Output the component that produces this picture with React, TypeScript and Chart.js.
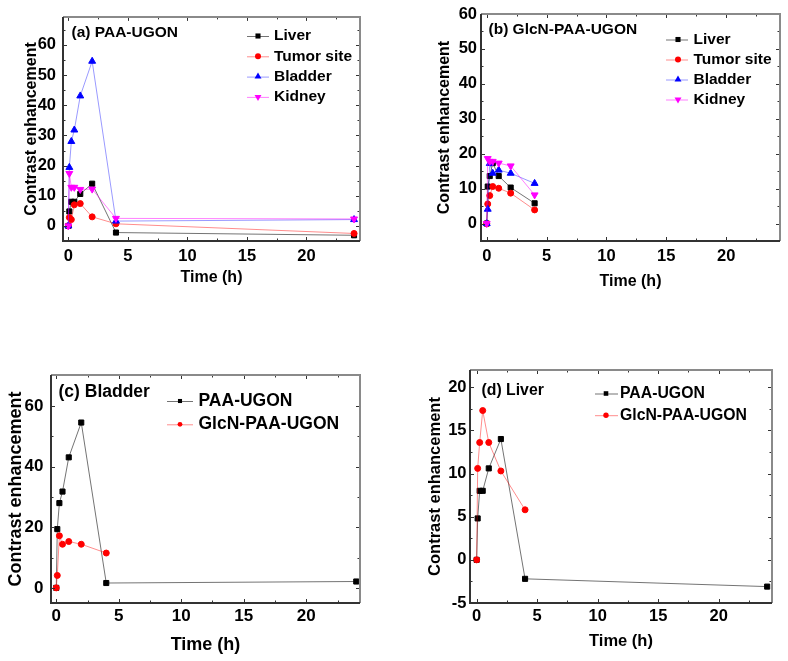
import React, { useEffect, useRef } from "react";
import { Chart, registerables } from "chart.js";

Chart.register(...registerables);

const FONT = "'Liberation Sans', Arial, Helvetica, sans-serif";

// ---- data ----
const timePAA = [0, 0.083, 0.25, 0.5, 1, 2, 4, 24];
const timeGlcN = [0, 0.083, 0.25, 0.5, 1, 2, 4];

const paaLiver = [0, 4.8, 8.0, 8.0, 10.6, 14.0, -2.2, -3.1];
const paaTumor = [0, 2.8, 2.1, 7.0, 7.4, 3.0, 0.7, -2.5];
const paaBladder = [0, 19.4, 28.0, 31.8, 43.1, 54.6, 1.6, 2.1];
const paaKidney = [0, 17.4, 12.8, 12.8, 12.1, 12.2, 2.5, 2.3];

const glcnLiver = [0, 10.6, 13.6, 17.3, 13.6, 10.3, 5.8];
const glcnTumor = [0, 5.6, 8.0, 10.6, 10.1, 8.7, 3.9];
const glcnBladder = [0, 4.1, 17.2, 14.4, 15.3, 14.4, 11.5];
const glcnKidney = [0, 18.6, 17.8, 17.8, 17.3, 16.5, 8.2];

const organLabels = ["Liver", "Tumor site", "Bladder", "Kidney"];
const agentLabels = ["PAA-UGON", "GlcN-PAA-UGON"];
const panelTitles = ["(a) PAA-UGON", "(b) GlcN-PAA-UGON", "(c) Bladder", "(d) Liver"];
const xAxisTitle = "Time (h)";
const yAxisTitle = "Contrast enhancement";

const xTicks = [0, 5, 10, 15, 20];
const xMinor = [2.5, 7.5, 12.5, 17.5, 22.5];
const yTicksA = [0, 10, 20, 30, 40, 50, 60];
const yMinorA = [5, 15, 25, 35, 45, 55, 65];
const yTicksB = [0, 10, 20, 30, 40, 50, 60];
const yMinorB = [5, 15, 25, 35, 45, 55];
const yTicksC = [0, 20, 40, 60];
const yMinorC = [10, 30, 50];
const yTicksD = [-5, 0, 5, 10, 15, 20];
const yMinorD = [-2.5, 2.5, 7.5, 12.5, 17.5];

// ---- styles ----
type MarkerStyle = "rect" | "circle" | "triangle";
type Series = {
  label: string;
  x: number[];
  y: number[];
  color: string;
  line: string;
  style: MarkerStyle;
  rot: number;
  r: number;
};

const BLACK = "#000000";
const RED = "#ff0000";
const BLUE = "#0000ff";
const MAGENTA = "#ff00ff";
const BLACK_LINE = "rgba(0,0,0,0.55)";
const RED_LINE = "rgba(255,0,0,0.45)";
const BLUE_LINE = "rgba(0,0,255,0.4)";
const MAGENTA_LINE = "rgba(255,0,255,0.5)";

function ser(label: string, x: number[], y: number[], color: string, line: string, style: MarkerStyle, rot = 0): Series {
  const r = style === "rect" ? 3.6 : style === "circle" ? 3 : 4;
  return { label, x, y, color, line, style, rot, r };
}

type PanelCfg = {
  left: number;
  top: number;
  w: number;
  h: number;
  area: { l: number; t: number; r: number; b: number };
  xRange: [number, number];
  yRange: [number, number];
  yTicks: number[];
  yMinor: number[];
  title: string;
  titleX: number;
  titleY: number;
  font: number;
  tickFont: number;
  axisFont: number;
  legend: { x1: number; x2: number; mx: number; tx: number; y: number; gap: number; ms: number };
  yLabelPad: number;
  yTitleX: number;
  xLabelY: number;
  xTitleY: number;
  series: Series[];
};

const panels: PanelCfg[] = [
  {
    left: 0, top: 0, w: 390, h: 330,
    area: { l: 63, t: 14, r: 360, b: 241 },
    xRange: [-0.45, 24.5], yRange: [-5, 69.3],
    yTicks: yTicksA, yMinor: yMinorA,
    title: panelTitles[0], titleX: 71.5, titleY: 32.5,
    font: 15.5, tickFont: 16.5, axisFont: 16,
    legend: { x1: 247, x2: 269, mx: 258, tx: 274, y: 36, gap: 20.3, ms: 1 },
    yLabelPad: 7, yTitleX: 31.5, xLabelY: 256, xTitleY: 278,
    series: [
      ser(organLabels[0], timePAA, paaLiver, BLACK, BLACK_LINE, "rect"),
      ser(organLabels[1], timePAA, paaTumor, RED, RED_LINE, "circle"),
      ser(organLabels[2], timePAA, paaBladder, BLUE, BLUE_LINE, "triangle"),
      ser(organLabels[3], timePAA, paaKidney, MAGENTA, MAGENTA_LINE, "triangle", 180),
    ],
  },
  {
    left: 390, top: 0, w: 398, h: 330,
    area: { l: 91, t: 14, r: 390, b: 241 },
    xRange: [-0.48, 24.5], yRange: [-5, 60],
    yTicks: yTicksB, yMinor: yMinorB,
    title: panelTitles[1], titleX: 98.5, titleY: 30,
    font: 15.5, tickFont: 16.5, axisFont: 16,
    legend: { x1: 276, x2: 298, mx: 288, tx: 303.5, y: 39.5, gap: 20, ms: 1 },
    yLabelPad: 4, yTitleX: 55, xLabelY: 256, xTitleY: 281.5,
    series: [
      ser(organLabels[0], timeGlcN, glcnLiver, BLACK, BLACK_LINE, "rect"),
      ser(organLabels[1], timeGlcN, glcnTumor, RED, RED_LINE, "circle"),
      ser(organLabels[2], timeGlcN, glcnBladder, BLUE, BLUE_LINE, "triangle"),
      ser(organLabels[3], timeGlcN, glcnKidney, MAGENTA, MAGENTA_LINE, "triangle", 180),
    ],
  },
  {
    left: 0, top: 330, w: 390, h: 331,
    area: { l: 51, t: 45, r: 360, b: 273 },
    xRange: [-0.42, 24.3], yRange: [-5, 70.3],
    yTicks: yTicksC, yMinor: yMinorC,
    title: panelTitles[2], titleX: 58.5, titleY: 62.5,
    font: 17.5, tickFont: 17, axisFont: 18,
    legend: { x1: 167, x2: 193, mx: 180, tx: 198.5, y: 71, gap: 23.3, ms: 0.8 },
    yLabelPad: 7.5, yTitleX: 16.5, xLabelY: 286, xTitleY: 315,
    series: [
      ser(agentLabels[0], timePAA, paaBladder, BLACK, BLACK_LINE, "rect"),
      ser(agentLabels[1], timeGlcN, glcnBladder, RED, RED_LINE, "circle"),
    ],
  },
  {
    left: 390, top: 330, w: 398, h: 331,
    area: { l: 80, t: 40, r: 382, b: 273 },
    xRange: [-0.55, 24.4], yRange: [-5, 22],
    yTicks: yTicksD, yMinor: yMinorD,
    title: panelTitles[3], titleX: 91.5, titleY: 60.5,
    font: 15.8, tickFont: 16.5, axisFont: 16.5,
    legend: { x1: 205, x2: 228, mx: 216, tx: 230, y: 63.5, gap: 21.7, ms: 0.9 },
    yLabelPad: 3.5, yTitleX: 45, xLabelY: 286, xTitleY: 311.5,
    series: [
      ser(agentLabels[0], timePAA, paaLiver, BLACK, BLACK_LINE, "rect"),
      ser(agentLabels[1], timeGlcN, glcnLiver, RED, RED_LINE, "circle"),
    ],
  },
];

function markerPath(ctx: CanvasRenderingContext2D, style: MarkerStyle, x: number, y: number, r: number, rot: number) {
  ctx.beginPath();
  if (style === "rect") {
    const s = r * Math.SQRT1_2;
    ctx.rect(x - s, y - s, 2 * s, 2 * s);
  } else if (style === "circle") {
    ctx.arc(x, y, r, 0, Math.PI * 2);
  } else {
    let a = (rot * Math.PI) / 180;
    ctx.moveTo(x + Math.sin(a) * r, y - Math.cos(a) * r);
    a += (2 * Math.PI) / 3;
    ctx.lineTo(x + Math.sin(a) * r, y - Math.cos(a) * r);
    a += (2 * Math.PI) / 3;
    ctx.lineTo(x + Math.sin(a) * r, y - Math.cos(a) * r);
    ctx.closePath();
  }
}

function Panel({ cfg }: { cfg: PanelCfg }) {
  const ref = useRef<HTMLCanvasElement | null>(null);

  useEffect(() => {
    const canvas = ref.current;
    if (!canvas) return;
    const axisLH = cfg.axisFont * 1.2;
    const tickLH = cfg.tickFont * 1.2;
    const n = cfg.series.length;

    const decor = {
      id: "decor" + cfg.title,
      afterDraw(chart: any) {
        const ctx = chart.ctx as CanvasRenderingContext2D;
        const { left, right, top, bottom } = chart.chartArea;
        const xs = chart.scales.x;
        const ys = chart.scales.y;
        ctx.save();
        // ticks (inward, all sides)
        ctx.strokeStyle = "#333";
        ctx.lineWidth = 1;
        const tickX = (vals: number[], len: number) => {
          for (const v of vals) {
            const px = Math.round(xs.getPixelForValue(v)) + 0.5;
            ctx.beginPath();
            ctx.moveTo(px, bottom);
            ctx.lineTo(px, bottom - len);
            ctx.moveTo(px, top);
            ctx.lineTo(px, top + len);
            ctx.stroke();
          }
        };
        const tickY = (vals: number[], len: number) => {
          for (const v of vals) {
            const py = Math.round(ys.getPixelForValue(v)) + 0.5;
            ctx.beginPath();
            ctx.moveTo(left, py);
            ctx.lineTo(left + len, py);
            ctx.moveTo(right, py);
            ctx.lineTo(right - len, py);
            ctx.stroke();
          }
        };
        tickX(xTicks, 4);
        tickX(xMinor, 2.5);
        tickY(cfg.yTicks, 4);
        tickY(cfg.yMinor, 2.5);
        // frame
        ctx.lineWidth = 2;
        ctx.strokeStyle = "#8a8a8a";
        ctx.beginPath();
        ctx.moveTo(left, top);
        ctx.lineTo(right, top);
        ctx.lineTo(right, bottom);
        ctx.stroke();
        ctx.strokeStyle = "#333";
        ctx.beginPath();
        ctx.moveTo(left, top);
        ctx.lineTo(left, bottom);
        ctx.lineTo(right, bottom);
        ctx.stroke();

        // panel title
        ctx.fillStyle = "#000";
        ctx.font = `bold ${cfg.font}px ${FONT}`;
        ctx.textAlign = "left";
        ctx.textBaseline = "middle";
        ctx.fillText(cfg.title, cfg.titleX, cfg.titleY);

        // legend
        const lg = cfg.legend;
        cfg.series.forEach((s, i) => {
          const y = lg.y + i * lg.gap;
          ctx.strokeStyle = s.line;
          ctx.lineWidth = 1;
          ctx.beginPath();
          ctx.moveTo(lg.x1, y + 0.5);
          ctx.lineTo(lg.x2, y + 0.5);
          ctx.stroke();
          ctx.fillStyle = s.color;
          markerPath(ctx, s.style, lg.mx, y, s.r * lg.ms, s.rot);
          ctx.fill();
          ctx.fillStyle = "#000";
          ctx.fillText(s.label, lg.tx, y);
        });
        ctx.restore();
      },
    };

    const chart = new Chart(canvas, {
      type: "line",
      data: {
        datasets: cfg.series.map((s, i) => ({
          label: s.label,
          data: s.x.map((x, k) => ({ x, y: s.y[k] })),
          borderColor: s.line,
          borderWidth: 1,
          backgroundColor: s.color,
          pointBackgroundColor: s.color,
          pointBorderColor: s.color,
          pointBorderWidth: 1,
          pointStyle: s.style,
          pointRotation: s.rot,
          pointRadius: s.r,
          tension: 0,
          fill: false,
          order: n - i,
        })),
      },
      options: {
        animation: false,
        responsive: false,
        devicePixelRatio: 1,
        layout: { padding: { left: 0, top: cfg.area.t, right: cfg.w - cfg.area.r, bottom: 0 } },
        plugins: { legend: { display: false }, tooltip: { enabled: false } },
        scales: {
          x: {
            type: "linear",
            min: cfg.xRange[0],
            max: cfg.xRange[1],
            grid: { display: false, drawTicks: false },
            border: { display: false },
            afterBuildTicks: (s: any) => {
              s.ticks = xTicks.map((v) => ({ value: v }));
            },
            afterFit: (s: any) => {
              s.height = cfg.h - cfg.area.b;
            },
            ticks: {
              autoSkip: false,
              maxRotation: 0,
              color: "#000",
              padding: cfg.xLabelY - cfg.area.b - tickLH / 2,
              font: { family: FONT, size: cfg.tickFont, weight: "bold", lineHeight: 1.2 },
            },
            title: {
              display: true,
              text: xAxisTitle,
              color: "#000",
              padding: { top: 0, bottom: cfg.h - cfg.xTitleY - axisLH / 2 },
              font: { family: FONT, size: cfg.axisFont, weight: "bold", lineHeight: 1.2 },
            },
          },
          y: {
            type: "linear",
            min: cfg.yRange[0],
            max: cfg.yRange[1],
            grid: { display: false, drawTicks: false },
            border: { display: false },
            afterBuildTicks: (s: any) => {
              s.ticks = cfg.yTicks.map((v) => ({ value: v }));
            },
            afterFit: (s: any) => {
              s.width = cfg.area.l;
            },
            ticks: {
              autoSkip: false,
              color: "#000",
              padding: cfg.yLabelPad,
              font: { family: FONT, size: cfg.tickFont, weight: "bold", lineHeight: 1.2 },
            },
            title: {
              display: true,
              text: yAxisTitle,
              color: "#000",
              padding: { top: cfg.yTitleX - axisLH / 2, bottom: 0 },
              font: { family: FONT, size: cfg.axisFont, weight: "bold", lineHeight: 1.2 },
            },
          },
        },
      } as any,
      plugins: [decor],
    });
    return () => chart.destroy();
  }, [cfg]);

  return (
    <canvas
      ref={ref}
      width={cfg.w}
      height={cfg.h}
      style={{ position: "absolute", left: cfg.left, top: cfg.top, width: cfg.w, height: cfg.h }}
    />
  );
}

export default function App() {
  return (
    <div style={{ position: "absolute", left: 0, top: 0, width: 788, height: 661, background: "#fff", overflow: "hidden" }}>
      {panels.map((p, i) => (
        <Panel key={i} cfg={p} />
      ))}
    </div>
  );
}
